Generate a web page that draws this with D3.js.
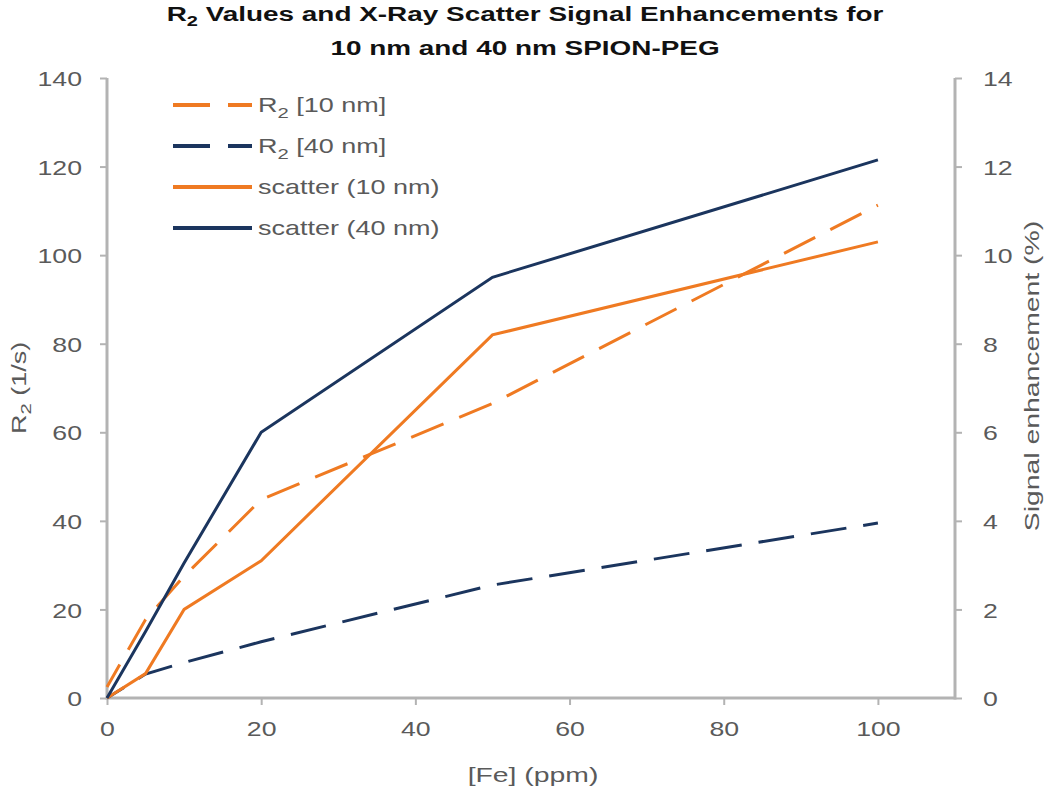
<!DOCTYPE html>
<html>
<head>
<meta charset="utf-8">
<script src="https://cdn.jsdelivr.net/npm/d3@7"></script>
<style>
  body { margin: 0; background: #fff; }
  svg text { font-family: "Liberation Sans", Arial, sans-serif; }
</style>
</head>
<body>
<div id="chart"></div>
<script>
// [Fe] concentrations (ppm)
var fe = [0, 5, 10, 20, 50, 100];

// R2 relaxation rates (1/s), left axis
var r2_10 = [2.5, 17.7, 27.5, 44.8, 66.5, 111.3];
var r2_40 = [0, 5.4, 8.0, 12.7, 25.5, 39.5];

// scatter signal enhancement (%), right axis
var sc_10 = [0, 0.55, 2.0, 3.1, 8.2, 10.3];
var sc_40 = [0, 1.5, 3.05, 6.0, 9.5, 12.15];

var xTicks = [0, 20, 40, 60, 80, 100];
var leftTicks = [0, 20, 40, 60, 80, 100, 120, 140];
var rightTicks = [0, 2, 4, 6, 8, 10, 12, 14];

var orange = "#ef7a22";
var navy = "#1b355e";
var axisGrey = "#b3b3b3";
var textGrey = "#5a5a5a";

// the source figure has its lettering stretched sideways
var tickStretch = 1.27;
var textStretch = 1.35;

var margin = {top: 78, right: 95, bottom: 94, left: 107};
var W = 1050, H = 792;
var width = W - margin.left - margin.right;
var height = H - margin.top - margin.bottom;

var svg = d3.select("#chart").append("svg")
    .attr("width", W)
    .attr("height", H);

var g = svg.append("g")
    .attr("transform", "translate(" + margin.left + "," + margin.top + ")");

var x = d3.scaleLinear().domain([0, 110]).range([0, width]);
var y0 = d3.scaleLinear().domain([0, 140]).range([height, 0]);
var y1 = d3.scaleLinear().domain([0, 14]).range([height, 0]);

// axes
var xAxis = d3.axisBottom(x).tickValues(xTicks).tickSize(7).tickPadding(12);
var yAxisLeft = d3.axisLeft(y0).tickValues(leftTicks).tickSize(7).tickPadding(18);
var yAxisRight = d3.axisRight(y1).tickValues(rightTicks).tickSize(7).tickPadding(21);

function styleAxis(sel) {
  sel.select(".domain").remove();
  sel.selectAll(".tick line").attr("stroke", axisGrey).attr("stroke-width", 2);
  sel.selectAll(".tick text")
    .attr("fill", textGrey)
    .style("font-size", "21px")
    .each(function() {
      var t = d3.select(this);
      var tx = +t.attr("x") || 0, ty = +t.attr("y") || 0;
      t.attr("x", 0).attr("y", 0)
        .attr("transform", "translate(" + tx + "," + ty + ") scale(" + tickStretch + ",1)");
    });
}

var gx = g.append("g")
  .attr("transform", "translate(0," + height + ")")
  .call(xAxis)
  .call(styleAxis);
gx.selectAll(".tick text").attr("dy", "0.9em");

g.append("g").call(yAxisLeft).call(styleAxis)
  .selectAll(".tick text").attr("dy", "0.36em");

g.append("g")
  .attr("transform", "translate(" + width + ",0)")
  .call(yAxisRight).call(styleAxis)
  .selectAll(".tick text").attr("dy", "0.36em");

// axis lines
g.append("line")
  .attr("x1", 0).attr("x2", width)
  .attr("y1", height).attr("y2", height)
  .attr("stroke", axisGrey).attr("stroke-width", 3);
g.append("line")
  .attr("x1", 0).attr("x2", 0)
  .attr("y1", 0).attr("y2", height + 1.5)
  .attr("stroke", axisGrey).attr("stroke-width", 3);
g.append("line")
  .attr("x1", width).attr("x2", width)
  .attr("y1", 0).attr("y2", height + 1.5)
  .attr("stroke", axisGrey).attr("stroke-width", 3);

// series
var series = [
  {name: "R2", size: "10 nm", vals: r2_10, y: y0, color: orange, dash: [35, 17]},
  {name: "R2", size: "40 nm", vals: r2_40, y: y0, color: navy, dash: [36, 17]},
  {name: "scatter", size: "10 nm", vals: sc_10, y: y1, color: orange, dash: null},
  {name: "scatter", size: "40 nm", vals: sc_40, y: y1, color: navy, dash: null}
];

series.forEach(function(s) {
  var line = d3.line()
    .x(function(d, i) { return x(fe[i]); })
    .y(function(d) { return s.y(d); });
  var p = g.append("path")
    .datum(s.vals)
    .attr("d", line)
    .attr("fill", "none")
    .attr("stroke", s.color)
    .attr("stroke-width", 3);
  if (s.dash) {
    // shift the pattern so the line finishes on a full dash, like the original
    var period = s.dash[0] + s.dash[1];
    var len = p.node().getTotalLength();
    var off = ((s.dash[0] - len) % period + period) % period;
    p.attr("stroke-dasharray", s.dash.join(","))
      .attr("stroke-dashoffset", -off);
  }
});

// legend
var legend = svg.append("g").attr("transform", "translate(173,105)");
series.forEach(function(s, i) {
  var row = legend.append("g").attr("transform", "translate(0," + (i * 41) + ")");
  row.append("line")
    .attr("x1", 0).attr("x2", 79)
    .attr("y1", 0).attr("y2", 0)
    .attr("stroke", s.color)
    .attr("stroke-width", 4)
    .attr("stroke-dasharray", s.dash ? "37,18" : null);
  var t = row.append("text")
    .attr("transform", "translate(85,7) scale(" + textStretch + ",1)")
    .attr("fill", textGrey)
    .style("font-size", "20px");
  if (s.name === "R2") {
    t.append("tspan").text("R");
    t.append("tspan").attr("dy", 6).style("font-size", "15px").text("2");
    t.append("tspan").attr("dy", -6).text(" [" + s.size + "]");
  } else {
    t.text(s.name + " (" + s.size + ")");
  }
});

// title
var title = svg.append("text")
  .attr("transform", "translate(525,21) scale(1.33,1)")
  .attr("text-anchor", "middle")
  .attr("fill", "#111")
  .style("font-size", "21px")
  .style("font-weight", "bold");
title.append("tspan").text("R");
title.append("tspan").attr("dy", 5).style("font-size", "15px").text("2");
title.append("tspan").attr("dy", -5).text(" Values and X-Ray Scatter Signal Enhancements for");
svg.append("text")
  .attr("transform", "translate(525,55) scale(1.33,1)")
  .attr("text-anchor", "middle")
  .attr("fill", "#111")
  .style("font-size", "21px")
  .style("font-weight", "bold")
  .text("10 nm and 40 nm SPION-PEG");

// axis titles
svg.append("text")
  .attr("transform", "translate(533,782) scale(" + textStretch + ",1)")
  .attr("text-anchor", "middle")
  .attr("fill", textGrey)
  .style("font-size", "21px")
  .text("[Fe] (ppm)");

var ylab = svg.append("text")
  .attr("transform", "translate(26," + (margin.top + height / 2) + ") rotate(-90) scale(" + textStretch + ",1)")
  .attr("text-anchor", "middle")
  .attr("fill", textGrey)
  .style("font-size", "20px");
ylab.append("tspan").text("R");
ylab.append("tspan").attr("dy", 5).style("font-size", "15px").text("2");
ylab.append("tspan").attr("dy", -5).text(" (1/s)");

svg.append("text")
  .attr("transform", "translate(1039," + (margin.top + height / 2 - 12) + ") rotate(-90) scale(" + textStretch + ",1)")
  .attr("text-anchor", "middle")
  .attr("fill", textGrey)
  .style("font-size", "21px")
  .text("Signal enhancement (%)");
</script>
</body>
</html>
